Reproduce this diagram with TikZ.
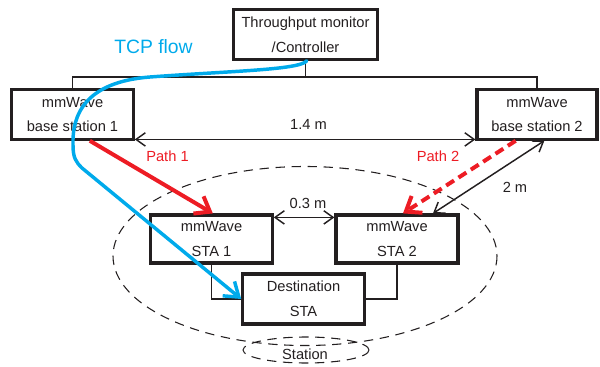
\documentclass[tikz,border=0pt]{standalone}
\usepackage{fontspec}
\setmainfont{Liberation Sans}
\usetikzlibrary{arrows.meta}
\definecolor{pathred}{RGB}{237,28,36}
\definecolor{tcpblue}{RGB}{0,170,235}
\definecolor{txt}{RGB}{35,31,32}
\begin{document}
\begin{tikzpicture}[x=0.75pt,y=-0.75pt,
  box/.style={draw=txt,line width=2.4pt,rectangle,inner sep=0pt,align=center,
    text=txt,font=\fontsize{11}{18.6}\selectfont},
  thin/.style={draw=txt,line width=0.8pt},
  dim/.style={draw=txt,line width=1.1pt,{Straight Barb[length=7pt,width=10pt]}-{Straight Barb[length=7pt,width=10pt]}},
  lbl/.style={text=txt,font=\fontsize{11}{13}\selectfont,inner sep=0pt},
  redpath/.style={draw=pathred,line width=3pt,-{Straight Barb[length=10pt,width=15pt]}},
  zone/.style={draw=txt,line width=0.8pt,dash pattern=on 7pt off 5pt}]
\useasboundingbox (0,0) rectangle (600,367);
% ellipses
\draw[zone] (305,256) ellipse [x radius=192, y radius=89.5];
\draw[zone] (306,350) ellipse [x radius=63, y radius=13];
\node[lbl] (station) at (305,354) {Station};
% boxes
\node[box,minimum width=108pt,minimum height=37pt] (ctrl) at (305.5,34.5) {Throughput monitor\\/Controller};
\node[box,minimum width=91pt,minimum height=37pt] (bs1) at (72.5,114.5) {mmWave\\base station 1};
\node[box,minimum width=90pt,minimum height=37pt] (bs2) at (537,114.5) {mmWave\\base station 2};
\node[box,minimum width=91pt,minimum height=36pt] (sta1) at (211.5,239) {mmWave\\STA 1};
\node[box,minimum width=91.5pt,minimum height=36pt] (sta2) at (397,239) {mmWave\\STA 2};
\node[box,minimum width=91pt,minimum height=37.5pt] (dst) at (303.5,299) {Destination\\STA};
% wired connections
\coordinate (bus) at (305.5,77);
\draw[thin] (ctrl.south) -- (bus);
\draw[thin] (bs1.north) |- (bus) -| (bs2.north);
\draw[thin] (sta1.south) |- (dst.west);
\draw[thin] (sta2.south) |- (dst.east);
% distances
\draw[dim] ([yshift=1pt]bs1.south east) -- ([yshift=1pt]bs2.south west);
\node[lbl] (d14) at (308.5,124) {1.4 m};
\draw[dim] ([yshift=-3pt]sta1.north east) -- ([yshift=-3pt]sta2.north west);
\node[lbl] (d03) at (308,203) {0.3 m};
\draw[dim] ([xshift=5.5pt]bs2.south) -- ([xshift=27pt]sta2.north);
\node[lbl] (d2) at (515,187) {2 m};
% paths
\draw[redpath] ([xshift=13pt]bs1.south) -- ([xshift=1pt]sta1.north);
\node[lbl,text=pathred] (p1) at (167.5,156) {Path 1};
\draw[redpath,dash pattern=on 7pt off 4pt] ([xshift=-16pt]bs2.south) -- ([xshift=4.5pt]sta2.north);
\node[lbl,text=pathred] (p2) at (438,156) {Path 2};
% TCP flow
\draw[draw=tcpblue,line width=2.6pt,line cap=round,line join=round,-{Straight Barb[length=10pt,width=14pt]}]
  ([xshift=1pt]ctrl.south) .. controls (300,70) and (230,71) .. (150,77)
  .. controls (85,82) and (72,115) .. (73,145)
  .. controls (73,158) and (76,162) .. (82,168) -- (dst.west);
\node[lbl,text=tcpblue,font=\fontsize{14.5}{16}\selectfont] (tcp) at (153.5,47) {TCP flow};
\end{tikzpicture}
\end{document}
